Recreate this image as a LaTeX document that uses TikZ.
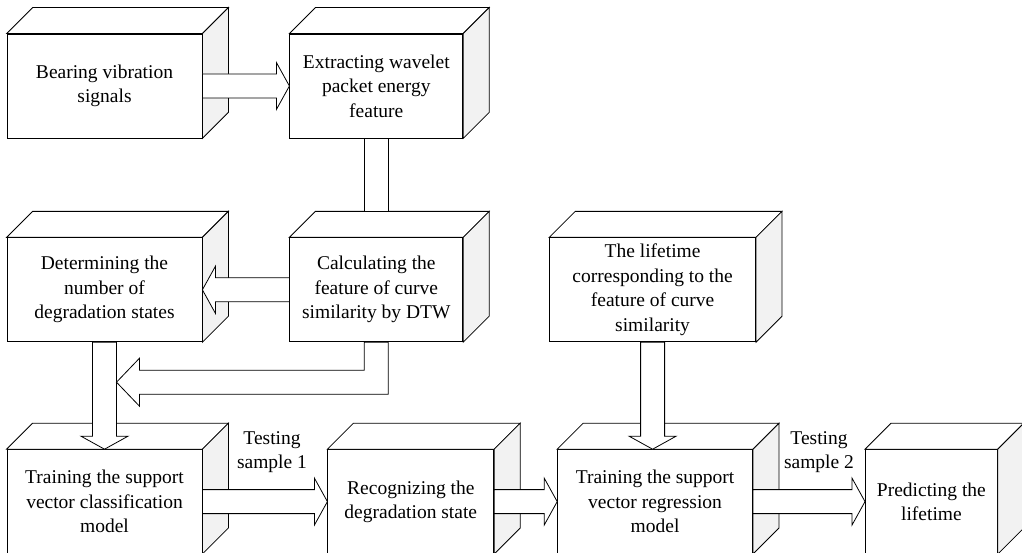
\documentclass[tikz,border=0pt]{standalone}
\usepackage{fontspec}
\setmainfont{Liberation Serif}
\usetikzlibrary{positioning,calc}

\begin{document}
\begin{tikzpicture}[x=1pt,y=1pt,line width=0.8pt,
  blk/.style={draw,fill=white,minimum height=104pt,inner sep=0pt,align=center,
    font=\fontsize{19.5}{24.5}\selectfont},
  lbl/.style={align=center,inner sep=0pt,font=\fontsize{19.5}{24.5}\selectfont},
  fat/.style={to path={
    ($(\tikztostart)!12pt!90:(\tikztotarget)$)
    -- ($(\tikztotarget)!13pt!(\tikztostart)!12pt!90:(\tikztotarget)$)
    -- ($(\tikztotarget)!13pt!(\tikztostart)!23.5pt!90:(\tikztotarget)$)
    -- (\tikztotarget)
    -- ($(\tikztotarget)!13pt!(\tikztostart)!23.5pt!-90:(\tikztotarget)$)
    -- ($(\tikztotarget)!13pt!(\tikztostart)!12pt!-90:(\tikztotarget)$)
    -- ($(\tikztostart)!12pt!-90:(\tikztotarget)$) -- cycle}}]
  \useasboundingbox (0,0) rectangle (1022,552);

  \node[blk,minimum width=195pt] (sig) at (104.5,466) {Bearing vibration\\signals};
  \node[blk,minimum width=173pt,right=87pt of sig] (wpe) {Extracting wavelet\\packet energy\\feature};
  \node[blk,minimum width=195pt,below=99pt of sig] (num) {Determining the\\number of\\degradation states};
  \node[blk,minimum width=173pt,below=99pt of wpe] (dtw) {Calculating the\\feature of curve\\similarity by DTW};
  \node[blk,minimum width=206pt,right=86pt of dtw] (life) {The lifetime\\corresponding to the\\feature of curve\\similarity};
  \node[blk,minimum width=195pt,below=107pt of num] (svc) {Training the support\\vector classification\\model};
  \node[blk,minimum width=166pt,right=125pt of svc] (rec) {Recognizing the\\degradation state};
  \node[blk,minimum width=195pt,right=63pt of rec] (svr) {Training the support\\vector regression\\model};
  \node[blk,minimum width=132pt,right=112pt of svr] (pre) {Predicting the\\lifetime};

  % top and side faces
  \foreach \b in {sig,wpe,num,dtw,life,svc,rec,svr,pre}{
    \draw[fill=white] (\b.north west) -- ++(26,26) -- ([shift={(26,26)}]\b.north east) -- (\b.north east) -- cycle;
    \draw[fill=gray!10] (\b.north east) -- ++(26,26) -- ([shift={(26,26)}]\b.south east) -- (\b.south east) -- cycle;
  }

  \draw[fill=white] (sig.east) to[fat] (wpe.west);
  \draw[fill=white] ([xshift=-12pt]wpe.south) rectangle ([shift={(12,26)}]dtw.north);
  \draw[fill=white] (dtw.west) to[fat] (num.east);
  \draw[fill=white] (num.south) to[fat] (svc.north);

  \path (dtw.south) ++(0,-40) coordinate (bend);
  \path (num.south |- bend) ++(12,0) coordinate (tip);
  \draw[fill=white] ([xshift=-12pt]dtw.south) |- ([shift={(23,12)}]tip) -- ++(0,12) -- (tip)
    -- ++(23,-24) -- ++(0,12) -| ([xshift=12pt]dtw.south) -- cycle;

  \coordinate (lifein) at (life.south |- svr.north);
  \draw[fill=white] (life.south) to[fat] (lifein);
  \draw[fill=white] (svc.east) to[fat] (rec.west);
  \draw[fill=white] (rec.east) to[fat] (svr.west);
  \draw[fill=white] (svr.east) to[fat] (pre.west);

  \node[lbl] (ts1) at (272,100) {Testing\\sample 1};
  \node[lbl] (ts2) at (819,100) {Testing\\sample 2};
\end{tikzpicture}
\end{document}
